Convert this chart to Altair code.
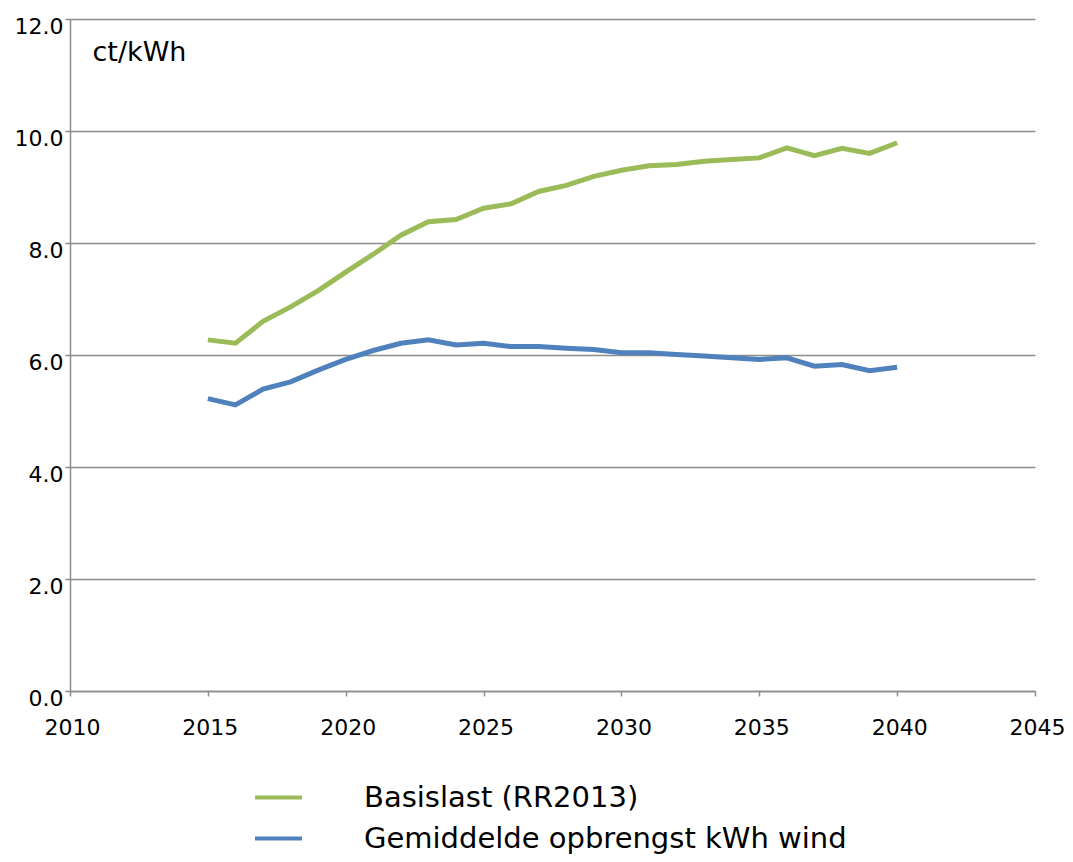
import altair as alt
import pandas as pd

years = list(range(2015, 2041))
basislast = [6.27, 6.21, 6.60, 6.86, 7.15, 7.48, 7.80, 8.14, 8.38, 8.42, 8.62, 8.70, 8.92, 9.03, 9.19,
             9.30, 9.38, 9.40, 9.46, 9.49, 9.52, 9.70, 9.56, 9.69, 9.60, 9.79]
wind = [5.22, 5.11, 5.39, 5.52, 5.73, 5.92, 6.08, 6.21, 6.27, 6.18, 6.21, 6.15, 6.15, 6.12, 6.10,
        6.04, 6.04, 6.01, 5.98, 5.95, 5.92, 5.95, 5.80, 5.83, 5.72, 5.78]
series_names = ["Basislast (RR2013)", "Gemiddelde opbrengst kWh wind"]
series_colors = ["#9BBB59", "#4F81BD"]
x_ticks = [2010, 2015, 2020, 2025, 2030, 2035, 2040, 2045]
y_ticks = [0, 2, 4, 6, 8, 10, 12]

df = pd.concat([
    pd.DataFrame({"jaar": years, "waarde": basislast, "reeks": series_names[0]}),
    pd.DataFrame({"jaar": years, "waarde": wind, "reeks": series_names[1]}),
])

chart = alt.Chart(df).mark_line(strokeWidth=5, strokeJoin="miter").encode(
    x=alt.X("jaar:Q",
            scale=alt.Scale(domain=[2010, 2045], nice=False, zero=False),
            axis=alt.Axis(values=x_ticks, format="d", title=None, grid=False,
                          labelFont="DejaVu Sans", labelFontSize=22, labelColor="#000000",
                          labelBaseline="alphabetic", labelPadding=38, labelOffset=2,
                          tickSize=5, tickColor="#8c8c8c", tickWidth=1.5,
                          domainColor="#8c8c8c", domainWidth=1.5, labelFlush=False)),
    y=alt.Y("waarde:Q",
            scale=alt.Scale(domain=[0, 12], nice=False),
            axis=alt.Axis(values=y_ticks, format=".1f", title="ct/kWh",
                          titleAngle=0, titleX=22, titleY=41, titleAlign="left",
                          titleBaseline="alphabetic", titleFont="DejaVu Sans",
                          titleFontSize=27, titleFontWeight="normal", titleColor="#000000",
                          labelFont="DejaVu Sans", labelFontSize=22, labelColor="#000000",
                          labelBaseline="alphabetic", labelOffset=14, labelPadding=2,
                          tickSize=5, tickColor="#8c8c8c", tickWidth=1.5,
                          gridColor="#8c8c8c", gridWidth=1.5,
                          domainColor="#8c8c8c", domainWidth=1.5, labelFlush=False)),
    color=alt.Color("reeks:N",
                    scale=alt.Scale(domain=series_names, range=series_colors),
                    legend=alt.Legend(title=None, orient="none", legendX=183, legendY=753,
                                      symbolType="stroke", symbolSize=2209, symbolStrokeWidth=4,
                                      labelFont="DejaVu Sans", labelFontSize=29, labelColor="#000000",
                                      labelOffset=60, rowPadding=-9, padding=0,
                                      labelLimit=800)),
).properties(
    width=965, height=672,
    autosize=alt.AutoSizeParams(type="none"),
    padding={"left": 62, "top": 11, "right": 30, "bottom": 163},
).configure_view(stroke=None)

chart.save("out.html", embed_options={"renderer": "svg", "actions": False})
